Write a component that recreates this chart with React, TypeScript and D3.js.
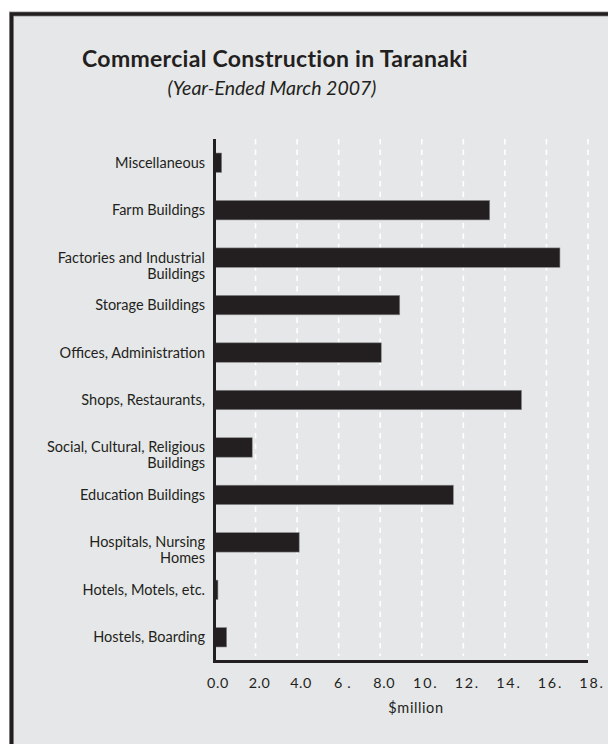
import React from "react";
import * as d3 from "d3";

const categories = [
  "Miscellaneous",
  "Farm Buildings",
  "Factories and Industrial\nBuildings",
  "Storage Buildings",
  "Offices, Administration",
  "Shops, Restaurants,",
  "Social, Cultural, Religious\nBuildings",
  "Education Buildings",
  "Hospitals, Nursing\nHomes",
  "Hotels, Motels, etc.",
  "Hostels, Boarding",
];
const values = [0.37, 13.27, 16.65, 8.94, 8.05, 14.8, 1.84, 11.52, 4.1, 0.19, 0.61];
const tickValues = [0, 2, 4, 6, 8, 10, 12, 14, 16, 18];
const tickLabels = ["0.0", "2.0", "4.0", "6 .", "8.0", "10.", "12.", "14.", "16.", "18."];

const W = 608;
const H = 744;
const dark = "#231f20";
const bg = "#e6e7e8";
const font = "Lato, 'Open Sans', sans-serif";

export default function App() {
  const x = d3.scaleLinear().domain([0, 18]).range([214, 588]);
  const y = d3
    .scaleBand<string>()
    .domain(categories)
    .range([139, 661])
    .paddingInner(0.59)
    .paddingOuter(0.295);

  return (
    <svg
      width={W}
      height={H}
      style={{ position: "absolute", left: 0, top: 0, background: "#fff" }}
      fontFamily={font}
    >
      <rect x={11.5} y={14} width={W + 10} height={H + 10} fill={bg} stroke="#9a9a9a" strokeWidth={5} />
      <rect x={11.5} y={14} width={W + 10} height={H + 10} fill="none" stroke={dark} strokeWidth={3.5} />

      <text x={275} y={67} textAnchor="middle" fontSize={23} fontWeight="bold" letterSpacing={0.3} fill={dark}>
        Commercial Construction in Taranaki
      </text>
      <text x={272} y={95} textAnchor="middle" fontSize={19.5} fontStyle="italic" fill={dark}>
        (Year-Ended March 2007)
      </text>

      {tickValues.slice(1).map((v) => (
        <line
          key={"g" + v}
          x1={x(v)}
          x2={x(v)}
          y1={139}
          y2={656}
          stroke="#fff"
          strokeWidth={1.6}
          strokeDasharray="5.5,5"
        />
      ))}

      {categories.map((c, i) => (
        <rect
          key={"b" + i}
          x={x(0)}
          y={y(c)!}
          width={x(values[i]) - x(0)}
          height={y.bandwidth()}
          fill={dark}
          stroke="#8a8a8a"
          strokeWidth={0.6}
        />
      ))}

      <line x1={214.5} x2={214.5} y1={139} y2={663} stroke={dark} strokeWidth={3} />
      <line x1={213} x2={588} y1={661.5} y2={661.5} stroke={dark} strokeWidth={3} />

      {categories.map((c, i) => {
        const lines = c.split("\n");
        const cy = y(c)! + y.bandwidth() / 2;
        return (
          <text key={"l" + i} x={205} y={cy + 5} textAnchor="end" fontSize={14.5} fill={dark}>
            {lines.map((ln, j) => (
              <tspan key={j} x={205} dy={j === 0 ? 0 : 16}>
                {ln}
              </tspan>
            ))}
          </text>
        );
      })}

      {tickValues.map((v, i) => (
        <text
          key={"t" + v}
          x={x(v) + 4}
          y={688}
          textAnchor="middle"
          fontSize={14.3}
          letterSpacing={i >= 5 ? 1.8 : 0.6}
          fill={dark}
        >
          {tickLabels[i]}
        </text>
      ))}

      <text x={416} y={713} textAnchor="middle" fontSize={14.5} letterSpacing={0.6} fill={dark}>
        $million
      </text>
    </svg>
  );
}
